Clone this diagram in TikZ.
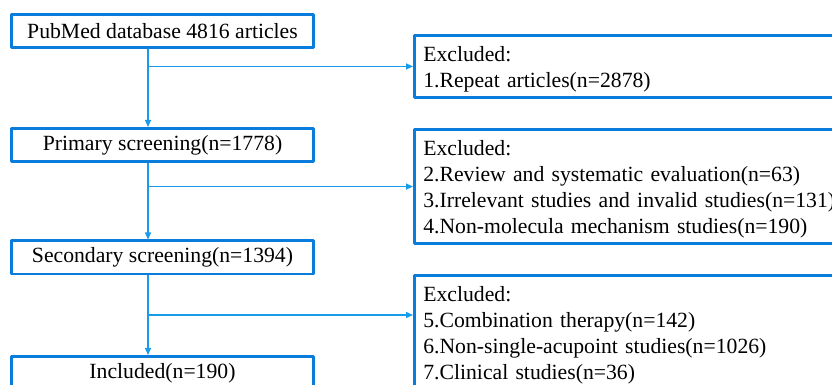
\documentclass[tikz,border=0pt]{standalone}
\usepackage{fontspec}
\setmainfont{Liberation Serif}
\usetikzlibrary{arrows.meta}
\definecolor{boxblue}{RGB}{10,125,220}
\definecolor{lineblue}{RGB}{25,155,235}
\begin{document}
\begin{tikzpicture}[x=1pt, y=1pt, font=\fontsize{21.7}{26.1}\selectfont, line join=round, >={Stealth[length=7pt,width=6pt,inset=0pt]},
	stagebox/.style={draw=boxblue, line width=2.6pt, minimum width=302.5pt, minimum height=33.4pt, inner sep=0pt},
	exclbox/.style={draw=boxblue, line width=2.6pt, anchor=north west, align=left, text width=440pt, inner xsep=9pt, inner ysep=5.5pt},
	flow/.style={draw=lineblue, line width=1.3pt}]
	% Khung hình
	\useasboundingbox (0,0) rectangle (832,385);
	\clip (0,0) rectangle (832,385);
	
	% Các bước sàng lọc
	\node[stagebox] (pub) at (162.5,354) {PubMed database 4816 articles};
	\node[stagebox] (prim) at (162.5,240) {Primary screening(n=1778)};
	\node[stagebox] (sec) at (162.5,127.5) {Secondary screening(n=1394)};
	\node[stagebox] (incl) at (162.5,12) {Included(n=190)};
	
	% Các khung loại trừ
	\node[exclbox] (excl1) at (413,350.7) {\rule{0pt}{20pt}Excluded:\\1.Repeat articles(n=2878)\rule[-4.5pt]{0pt}{0pt}};
	\node[exclbox] (excl2) at (413,256.7) {\rule{0pt}{20pt}Excluded:\\2.Review and systematic evaluation(n=63)\\3.Irrelevant studies and invalid studies(n=131)\\4.Non-molecula mechanism studies(n=190)\rule[-4.5pt]{0pt}{0pt}};
	\node[exclbox] (excl3) at (413,110.7) {\rule{0pt}{20pt}Excluded:\\5.Combination therapy(n=142)\\6.Non-single-acupoint studies(n=1026)\\7.Clinical studies(n=36)\rule[-4.5pt]{0pt}{0pt}};
	
	% Đường nối
	\coordinate (spine) at (148,0);
	\coordinate (b3) at (148,70);
	\draw[flow,->] (pub.south -| spine) -- (prim.north -| spine);
	\draw[flow,->] (prim.south -| spine) -- (sec.north -| spine);
	\draw[flow,->] (sec.south -| spine) -- (incl.north -| spine);
	\draw[flow,->] (spine |- excl1.west) -- (excl1.west);
	\draw[flow,->] (spine |- excl2.west) -- (excl2.west);
	\draw[flow,->] (b3) -- (b3 -| excl3.west);
\end{tikzpicture}
\end{document}
